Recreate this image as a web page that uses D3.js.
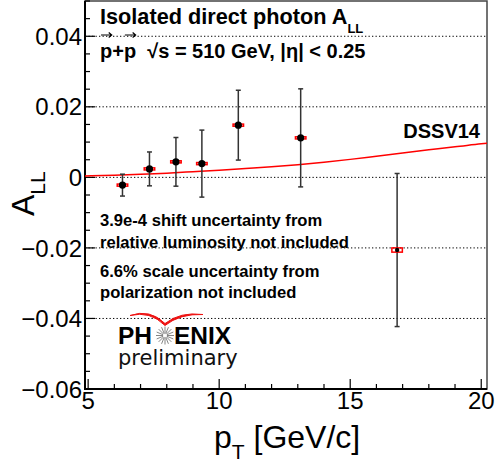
<!DOCTYPE html>
<html><head><meta charset="utf-8">
<script src="https://cdn.jsdelivr.net/npm/d3@7"></script>
<style>
html,body{margin:0;padding:0;background:#fff;}
svg{display:block;font-family:"Liberation Sans",Arial,Helvetica,sans-serif;}
</style></head>
<body>
<svg id="chart" width="497" height="463"></svg>
<script>
// ---- data ----
const ptCenters   = [6.31, 7.34, 8.35, 9.34, 10.73, 13.11, 16.79];
const allValues   = [-0.0022, 0.0024, 0.0044, 0.0039, 0.0148, 0.0112, -0.0206];
const statErrors  = [0.0031, 0.0048, 0.0069, 0.0095, 0.0099, 0.0139, 0.0217];
const sysErrors   = [0.0003, 0.0003, 0.0003, 0.0003, 0.0003, 0.0003, 0.0006];
const sysHalfWidth = 0.2;
const theoryPt    = [4.88, 6, 7, 8, 9, 10, 11, 12, 13, 14, 15, 16, 17, 18, 19, 20, 20.22];
const theoryDSSV  = [0.0004, 0.0006, 0.0009, 0.0012, 0.0016, 0.0020, 0.0025, 0.0030, 0.0036, 0.0043, 0.0051, 0.0060, 0.0069, 0.0078, 0.0087, 0.0095, 0.0097];
const yTickValues = [-0.06, -0.04, -0.02, 0, 0.02, 0.04];
const yTickLabels = ["\u22120.06", "\u22120.04", "\u22120.02", "0", "0.02", "0.04"];
const xTickValues = [5, 10, 15, 20];
const xTickLabels = ["5", "10", "15", "20"];
const gridValues  = [-0.04, -0.02, 0, 0.02, 0.04];

const svg = d3.select("#chart");
const L = 85, R = 487, T = 1, B = 389;
const x = d3.scaleLinear().domain([4.88, 20.22]).range([L, R]);
const y = d3.scaleLinear().domain([-0.06, 0.05]).range([B, T]);

// grid (dotted)
svg.append("g").selectAll("line").data(gridValues).join("line")
  .attr("x1", L).attr("x2", R)
  .attr("y1", d => y(d)).attr("y2", d => y(d))
  .attr("stroke", "#000").attr("stroke-width", 1).attr("stroke-dasharray", "1.3,2.2");

// frame
svg.append("rect").attr("x", L).attr("y", T).attr("width", R - L).attr("height", B - T)
  .attr("fill", "none").attr("stroke", "#444").attr("stroke-width", 1.5);

// y axis ticks (inside)
const yMinor = d3.range(-0.06, 0.0501, 0.005);
svg.append("g").selectAll("line").data(yMinor).join("line")
  .attr("x1", L).attr("x2", (d) => L + (Math.abs(Math.round(d * 1000) % 20) === 0 ? 10 : 5))
  .attr("y1", d => y(d)).attr("y2", d => y(d))
  .attr("stroke", "#000").attr("stroke-width", 1.2);
// x axis ticks (inside)
const xMinor = d3.range(5, 20.01, 1);
svg.append("g").selectAll("line").data(xMinor).join("line")
  .attr("x1", d => x(d)).attr("x2", d => x(d))
  .attr("y1", B).attr("y2", d => B - (d % 5 === 0 ? 10 : 5))
  .attr("stroke", "#000").attr("stroke-width", 1.2);
// axis lines
svg.append("line").attr("x1", L).attr("x2", L).attr("y1", T).attr("y2", B + 1).attr("stroke", "#000").attr("stroke-width", 2);
svg.append("line").attr("x1", L - 1).attr("x2", R).attr("y1", B).attr("y2", B).attr("stroke", "#000").attr("stroke-width", 2);

// tick labels
svg.append("g").selectAll("text").data(yTickValues).join("text")
  .attr("x", L - 3).attr("y", d => y(d)).attr("dy", "0.36em")
  .attr("text-anchor", "end").attr("font-size", 24).attr("fill", "#000")
  .text((d, i) => yTickLabels[i]);
svg.append("g").selectAll("text").data(xTickValues).join("text")
  .attr("x", d => x(d)).attr("y", 409)
  .attr("text-anchor", "middle").attr("font-size", 24).attr("fill", "#000")
  .text((d, i) => xTickLabels[i]);

// axis titles
const xt = svg.append("text").attr("x", 214).attr("y", 448).attr("font-size", 32).attr("fill", "#000");
xt.append("tspan").text("p");
xt.append("tspan").attr("font-size", 21).attr("dy", 11).text("T");
xt.append("tspan").attr("dy", -11).text(" [GeV/c]");
const yt = svg.append("text").attr("transform", "translate(34,216) rotate(-90)").attr("font-size", 32).attr("fill", "#000");
yt.append("tspan").text("A");
yt.append("tspan").attr("font-size", 21).attr("dy", 11).text("LL");

// theory curve
const line = d3.line().x((d, i) => x(theoryPt[i])).y(d => y(d)).curve(d3.curveMonotoneX);
svg.append("path").attr("d", line(theoryDSSV)).attr("fill", "none").attr("stroke", "#ff0000").attr("stroke-width", 1.5);

// error bars
const pts = ptCenters.map((p, i) => ({p, v: allValues[i], e: statErrors[i], s: sysErrors[i]}));
const eb = svg.append("g");
eb.selectAll("line.v").data(pts).join("line").attr("class", "v")
  .attr("x1", d => x(d.p)).attr("x2", d => x(d.p))
  .attr("y1", d => y(d.v + d.e)).attr("y2", d => y(d.v - d.e))
  .attr("stroke", "#333").attr("stroke-width", 1.5);
["t", "b"].forEach(k => {
  eb.selectAll("line.c" + k).data(pts).join("line").attr("class", "c" + k)
    .attr("x1", d => x(d.p) - 2.5).attr("x2", d => x(d.p) + 2.5)
    .attr("y1", d => y(k === "t" ? d.v + d.e : d.v - d.e))
    .attr("y2", d => y(k === "t" ? d.v + d.e : d.v - d.e))
    .attr("stroke", "#333").attr("stroke-width", 1.5);
});
// systematic boxes
svg.append("g").selectAll("rect").data(pts).join("rect")
  .attr("x", d => x(d.p - sysHalfWidth)).attr("width", d => x(d.p + sysHalfWidth) - x(d.p - sysHalfWidth))
  .attr("y", d => y(d.v + d.s)).attr("height", d => y(d.v - d.s) - y(d.v + d.s))
  .attr("fill", "none").attr("stroke", "#ff0000").attr("stroke-width", 1.5);
// markers
svg.append("g").selectAll("circle").data(pts).join("circle")
  .attr("cx", d => x(d.p)).attr("cy", d => y(d.v)).attr("r", (d, i) => i === 6 ? 2.2 : 3.6)
  .attr("fill", "#000");

// annotations
const t1 = svg.append("text").attr("x", 100).attr("y", 24).attr("font-size", 21.7).attr("font-weight", "bold").attr("fill", "#000");
t1.append("tspan").text("Isolated direct photon A");
t1.append("tspan").attr("font-size", 13).attr("dx", 0).attr("dy", 9).text("LL");

const t2 = svg.append("text").attr("x", 100).attr("y", 58).attr("font-size", 20).attr("font-weight", "bold").attr("fill", "#000")
  .text("p+p\u00A0\u00A0\u221As = 510 GeV, |\u03B7| < 0.25");
// arrows over the two p's
[0, 2].forEach(ci => {
  const bb = t2.node().getExtentOfChar(ci);
  const ax0 = bb.x + 1, ax1 = bb.x + bb.width - 0.5, ay = 58 - 23;
  svg.append("path").attr("d", `M${ax0},${ay}L${ax1},${ay}M${ax1 - 3},${ay - 2.5}L${ax1},${ay}L${ax1 - 3},${ay + 2.5}`)
    .attr("fill", "none").attr("stroke", "#000").attr("stroke-width", 1.2);
});

svg.append("text").attr("x", 480).attr("y", 138).attr("text-anchor", "end").attr("font-size", 20).attr("font-weight", "bold").text("DSSV14");

const notes = [["3.9e-4 shift uncertainty from", 226], ["relative luminosity not included", 248],
               ["6.6% scale uncertainty from", 277], ["polarization not included", 298]];
svg.append("g").selectAll("text").data(notes).join("text")
  .attr("x", 100).attr("y", d => d[1]).attr("font-size", 16.6).attr("font-weight", "bold").attr("fill", "#000")
  .text(d => d[0]);

// PHENIX logo
const lg = svg.append("g");
const lx = 118, ly = 344;
lg.append("text").attr("x", lx).attr("y", ly).attr("font-size", 24.5).attr("font-weight", "bold").text("PH");
lg.append("text").attr("x", lx + 56).attr("y", ly).attr("font-size", 24.5).attr("font-weight", "bold").text("ENIX");
const sx = lx + 47, sy = ly - 8.5;
d3.range(16).forEach(k => {
  const a = k * Math.PI / 8;
  lg.append("line").attr("x1", sx + 2 * Math.cos(a)).attr("y1", sy + 2 * Math.sin(a))
    .attr("x2", sx + 9 * Math.cos(a)).attr("y2", sy + 9 * Math.sin(a))
    .attr("stroke", "#777").attr("stroke-width", 0.9);
});
lg.append("path")
  .attr("d", `M${sx - 35},${sy - 20} Q${sx - 15},${sy - 27} ${sx},${sy - 12} Q${sx + 15},${sy - 24} ${sx + 38},${sy - 21}
              Q${sx + 15},${sy - 22} ${sx},${sy - 10} Q${sx - 15},${sy - 25} ${sx - 35},${sy - 20}Z`)
  .attr("fill", "#ee1111").attr("stroke", "#ee1111").attr("stroke-width", 1);
lg.append("text").attr("x", lx).attr("y", ly + 21).attr("font-size", 21)
  .attr("font-family", "'DejaVu Sans', sans-serif").attr("fill", "#111").text("preliminary");
</script>
</body></html>
